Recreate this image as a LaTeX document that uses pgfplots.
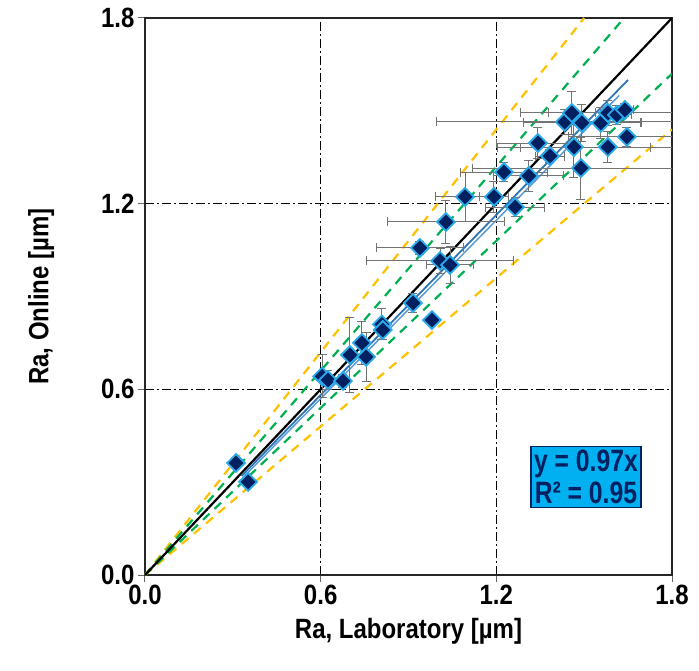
\documentclass[border=0pt]{standalone}
\usepackage{fontspec}
\setmainfont{Liberation Sans}[FakeStretch=0.86]
\newfontfamily\narrowfont{Liberation Sans}[FakeStretch=0.8]
\usepackage{pgfplots}
\usepackage{pgfplotstable}
\pgfplotsset{compat=1.18}
\definecolor{navy}{RGB}{0,32,96}
\definecolor{cyanbox}{RGB}{0,176,240}
\definecolor{mkedge}{RGB}{40,170,235}
\definecolor{orng}{RGB}{255,192,0}
\definecolor{grn}{RGB}{0,176,80}
\definecolor{bl1}{RGB}{46,117,182}
\definecolor{bl2}{RGB}{91,155,213}
\pgfplotstableread{
x y ex ey
0.311 0.362 0.00 0.00
0.352 0.301 0.00 0.00
0.605 0.642 0.02 0.07
0.625 0.630 0.02 0.03
0.676 0.627 0.01 0.02
0.700 0.711 0.01 0.12
0.741 0.750 0.02 0.07
0.755 0.705 0.01 0.08
0.809 0.810 0.02 0.05
0.812 0.792 0.02 0.03
0.915 0.879 0.02 0.03
0.980 0.824 0.01 0.01
0.939 1.057 0.15 0.02
1.008 1.015 0.25 0.04
1.042 1.002 0.08 0.06
1.028 1.141 0.20 0.07
1.093 1.222 0.10 0.08
1.192 1.222 0.05 0.05
1.264 1.189 0.10 0.03
1.226 1.302 0.15 0.03
1.311 1.290 0.12 0.05
1.342 1.396 0.14 0.05
1.383 1.354 0.05 0.02
1.434 1.464 0.44 0.04
1.458 1.493 0.08 0.07
1.465 1.383 0.26 0.10
1.489 1.315 0.37 0.10
1.492 1.461 0.20 0.06
1.557 1.461 0.14 0.05
1.581 1.493 0.30 0.04
1.581 1.383 0.30 0.05
1.612 1.487 0.05 0.03
1.639 1.503 0.03 0.02
1.646 1.416 0.20 0.03
}\pts
\begin{document}
\begin{tikzpicture}
\begin{axis}[
  at={(0,0)}, anchor=south west,
  scale only axis, width=527bp, height=557bp,
  xmin=0, xmax=1.8, ymin=0, ymax=1.8,
  xtick={0,0.6,1.2,1.8}, ytick={0,0.6,1.2,1.8},
  xticklabel style={/pgf/number format/.cd, fixed, fixed zerofill, precision=1},
  yticklabel style={/pgf/number format/.cd, fixed, fixed zerofill, precision=1},
  /pgf/number format/assume math mode=true,
  tick label style={font=\fontsize{28}{30}\selectfont\bfseries, text=black},
  label style={font=\fontsize{28}{30}\selectfont\bfseries},
  xlabel={Ra, Laboratory [µm]},
  ylabel={Ra, Online [µm]},
  xlabel style={yshift=-6bp},
  ylabel style={yshift=40bp},
  tick pos=left, tick align=outside,
  major tick length=7bp,
  tick style={black!60, line width=1bp},
  axis line style={line width=2.5bp, black!85},
  grid=major,
  major grid style={black, line width=1.2bp, dash pattern=on 9bp off 3bp on 2bp off 3bp},
  clip=true,
]
\addplot[orng, line width=2.2bp, dash pattern=on 9bp off 7bp] coordinates {(0,0) (1.5,1.8)};
\addplot[orng, line width=2.2bp, dash pattern=on 9bp off 7bp] coordinates {(0,0) (1.8,1.44)};
\addplot[grn, line width=2.2bp, dash pattern=on 9bp off 7bp] coordinates {(0,0) (1.6364,1.8)};
\addplot[grn, line width=2.2bp, dash pattern=on 9bp off 7bp] coordinates {(0,0) (1.8,1.62)};
\addplot[black, line width=2.2bp] coordinates {(0,0) (1.8,1.8)};
\addplot[bl2, line width=1.5bp] coordinates {(0.34,0.32) (1.62,1.55)};
\addplot[bl1, line width=1.8bp] coordinates {(0.33,0.32) (1.65,1.60)};
\addplot[only marks, mark=square*, mark size=6.3bp,
  mark options={rotate=45, fill=navy, draw=mkedge, line width=1.8bp},
  error bars/.cd, x dir=both, x explicit, y dir=both, y explicit,
  error bar style={black!55, line width=1bp},
  error mark options={black!55, line width=1bp, mark size=4.5bp, rotate=90}]
  table[x=x, y=y, x error=ex, y error=ey] {\pts};
\node[draw=navy, line width=1.5bp, fill=cyanbox, text=navy, align=center,
  font=\narrowfont\fontsize{31}{33}\selectfont\bfseries, inner sep=3bp]
  at (axis cs:1.506,0.317) {y = 0.97x\\R² = 0.95};
\end{axis}
\pgfresetboundingbox
\path[use as bounding box] (-145bp,-96bp) rectangle (554bp,575bp);
\end{tikzpicture}
\end{document}
